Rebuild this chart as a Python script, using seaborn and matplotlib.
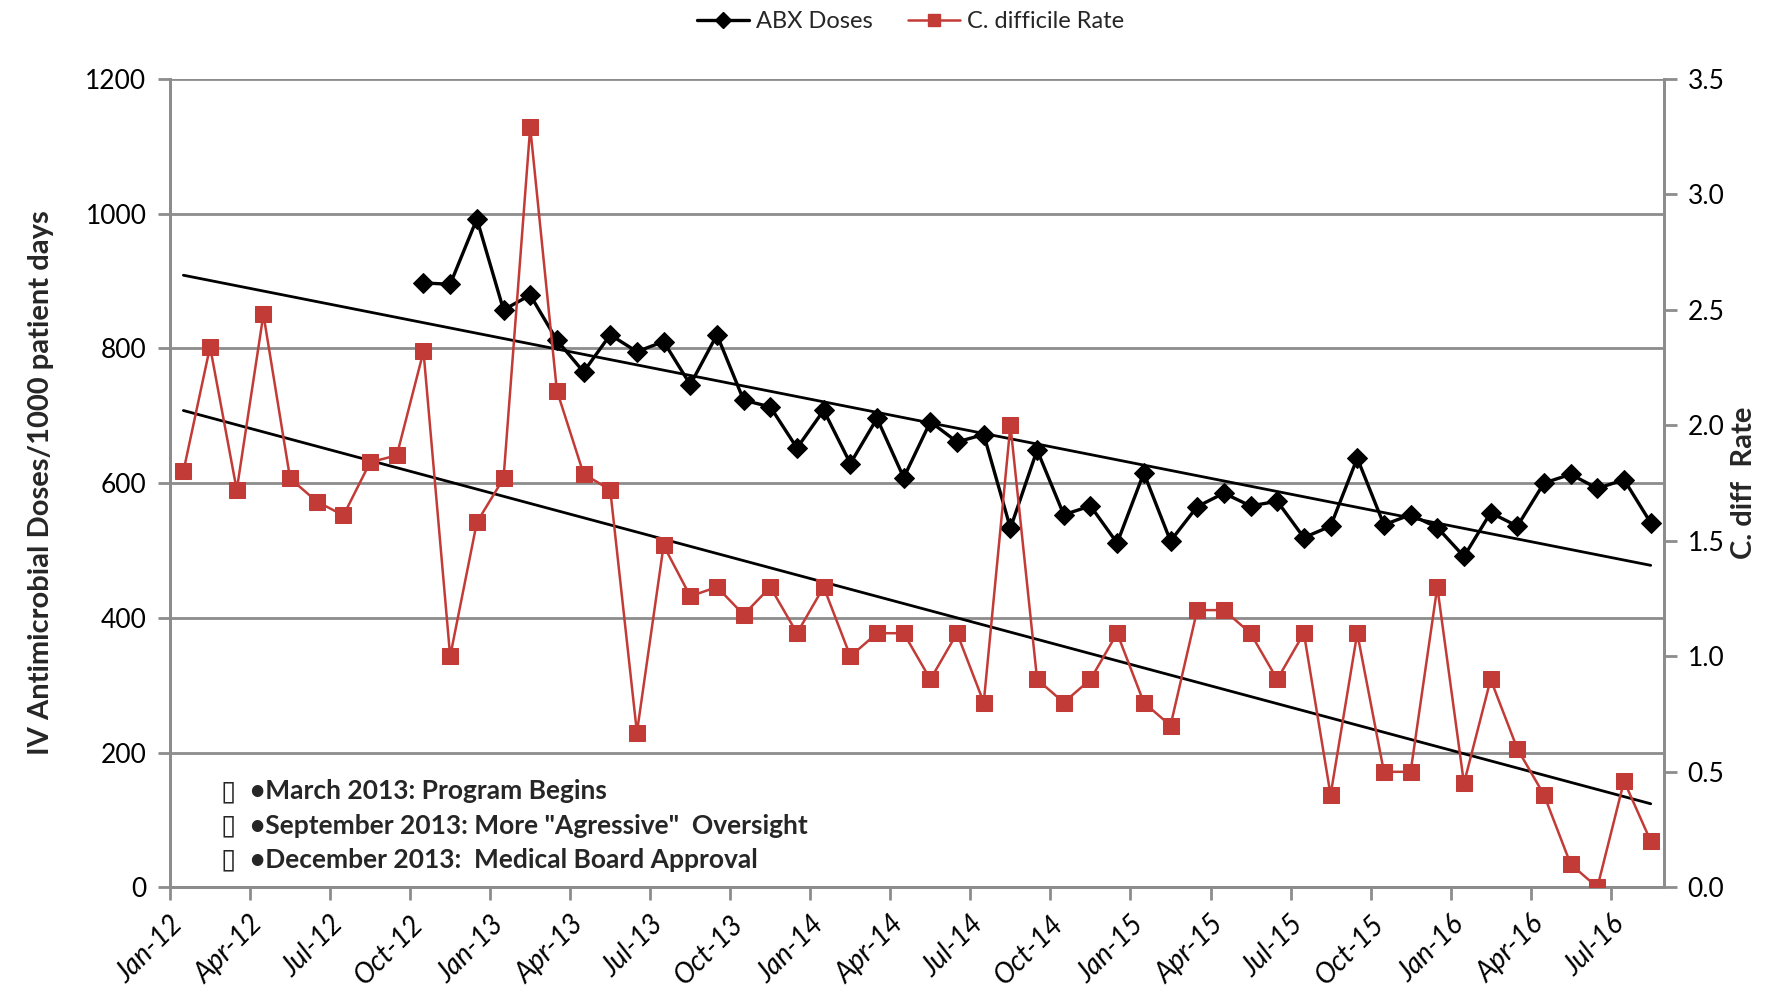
import numpy as np
import pandas as pd
import matplotlib.pyplot as plt
import seaborn as sns

# monthly data, Jan-12 .. Aug-16
months = pd.date_range('2012-01-01', '2016-08-01', freq='MS')
abx_start = 9  # ABX series starts Oct-12
abx_doses = [897, 895, 992, 857, 879, 812, 765, 820, 795, 810,
             746, 820, 723, 713, 652, 708, 629, 696, 608, 691,
             661, 672, 533, 649, 553, 566, 511, 615, 514, 565,
             585, 566, 573, 519, 536, 637, 538, 553, 534, 491,
             556, 536, 600, 613, 592, 605, 541]
cdiff_rate = [1.80, 2.34, 1.72, 2.48, 1.77, 1.67, 1.61, 1.84, 1.87, 2.32,
              1.00, 1.58, 1.77, 3.29, 2.15, 1.79, 1.72, 0.67, 1.48, 1.26,
              1.30, 1.18, 1.30, 1.10, 1.30, 1.00, 1.10, 1.10, 0.90, 1.10,
              0.80, 2.00, 0.90, 0.80, 0.90, 1.10, 0.80, 0.70, 1.20, 1.20,
              1.10, 0.90, 1.10, 0.40, 1.10, 0.50, 0.50, 1.30, 0.45, 0.90,
              0.60, 0.40, 0.10, 0.00, 0.46, 0.20]
tick_labels = [m.strftime('%b-%y') for m in months[::3]]
notes = ['March 2013: Program Begins',
         'September 2013: More "Agressive"  Oversight',
         'December 2013:  Medical Board Approval']

idx = np.arange(len(months))
cdiff = pd.DataFrame({'month': idx, 'rate': cdiff_rate})
abx = pd.DataFrame({'month': idx[abx_start:abx_start + len(abx_doses)], 'doses': abx_doses})

sns.set_style('white')
plt.rcParams['font.family'] = ['Lato', 'DejaVu Sans']

fig = plt.figure(figsize=(17.75, 9.97), dpi=100)
ax = fig.add_axes([0.0958, 0.110, 0.8417, 0.811])
ax2 = ax.twinx()

grid_c = '#8c8c8c'
red = '#C23B36'

sns.lineplot(data=abx, x='month', y='doses', ax=ax, color='black', lw=2.4,
             marker='D', markersize=10, markeredgecolor='black', zorder=3)
# linear trendlines across the whole period
p = np.polyfit(abx['month'], abx['doses'], 1)
ax.plot(idx, np.polyval(p, idx), color='black', lw=2, zorder=2)

sns.lineplot(data=cdiff, x='month', y='rate', ax=ax2, color=red, lw=1.8,
             marker='s', markersize=11, markeredgecolor=red, zorder=3)
q = np.polyfit(cdiff['month'], cdiff['rate'], 1)
ax2.plot(idx, np.polyval(q, idx), color='black', lw=2, zorder=2)

ax.set_xlim(-0.5, 55.5)
ax.set_ylim(0, 1200)
ax2.set_ylim(0, 3.5)
ax.set_yticks(range(0, 1201, 200))
ax2.set_yticks(np.arange(0, 3.51, 0.5))
ax2.set_yticklabels([f'{v:.1f}' for v in np.arange(0, 3.51, 0.5)])
ax.set_xticks(idx[::3] - 0.5)
ax.set_xticklabels(tick_labels, rotation=45, ha='right', rotation_mode='anchor',
                   fontstyle='italic', fontsize=20)

ax.yaxis.grid(True, color=grid_c, lw=2)
ax.set_axisbelow(True)
for a in (ax, ax2):
    for s in a.spines.values():
        s.set_color(grid_c)
        s.set_linewidth(2)
    a.spines['top'].set_visible(False)
    a.tick_params(axis='y', colors=grid_c, width=2, length=9, labelcolor='black', labelsize=19)
ax.tick_params(axis='x', colors=grid_c, width=2, length=9, labelcolor='black', pad=8)
ax.tick_params(left=True, bottom=True)
ax2.tick_params(right=True, pad=8)
ax.tick_params(axis='y', pad=8)

ax.set_xlabel('')
ax.set_ylabel('IV Antimicrobial Doses/1000 patient days', fontsize=21, fontweight='bold')
ax.yaxis.set_label_coords(-0.078, 0.5)
ax2.set_ylabel('C. diff  Rate', fontsize=21, fontweight='bold', rotation=90)
ax2.yaxis.set_label_coords(1.045, 0.5)

for i, n in enumerate(notes):
    y = 0.2065 - i * 0.0345
    fig.text(0.1245, y, '\u25af', fontsize=20, va='center', family=['DejaVu Sans'])
    fig.text(0.141, y, '\u2022' + n, fontsize=19, fontweight='bold', va='center')

handles = [plt.Line2D([], [], color='black', lw=2.4, marker='D', markersize=8),
           plt.Line2D([], [], color=red, lw=1.8, marker='s', markersize=9)]
fig.legend(handles, ['ABX Doses', 'C. difficile Rate'], loc='upper center',
           bbox_to_anchor=(0.513, 1.01), ncol=2, frameon=False, fontsize=17,
           handlelength=2.2, columnspacing=1.5, handletextpad=0.3)

fig.savefig('out.png', dpi=100)
